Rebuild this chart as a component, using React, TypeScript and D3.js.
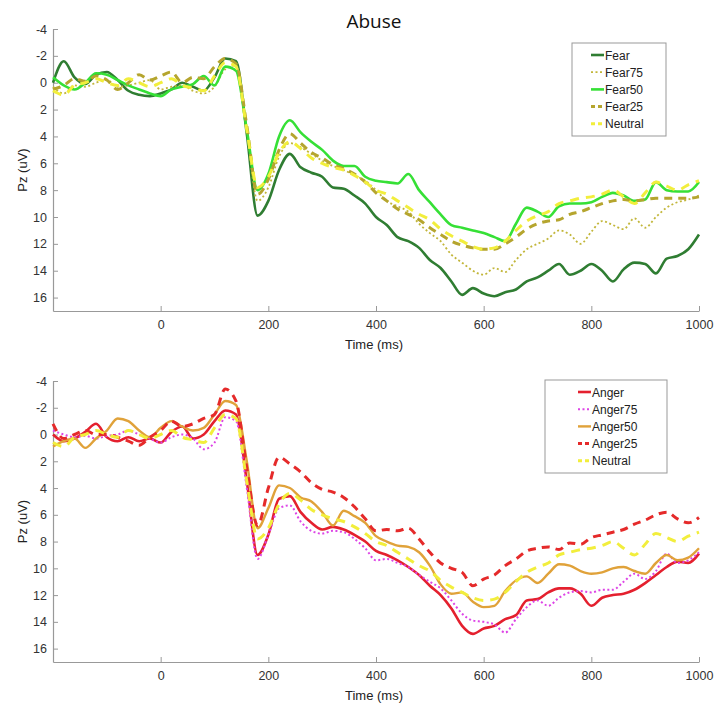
import React, { useEffect, useRef } from "react";
import * as d3 from "d3";

// time points (ms), 20 ms steps
const times = d3.range(-200, 1001, 20);

const xTicks = [0, 200, 400, 600, 800, 1000];
const yTicks = [-4, -2, 0, 2, 4, 6, 8, 10, 12, 14, 16];

// Abuse panel
const fear = [
  0.0, -1.6, -0.4, 0.1, -0.6, -0.8, -0.2, 0.6, 0.9, 1.0, 0.8, 0.5, 0.0, 0.3, 0.6, -0.4, -1.8, -1.6, 3.8, 9.9,
  8.8, 6.5, 5.3, 6.3, 6.7, 7.0, 7.8, 7.9, 8.4, 9.0, 10.0, 10.6, 11.5, 11.8, 12.3, 13.2, 13.8, 14.8, 15.8, 15.3,
  15.7, 15.9, 15.6, 15.4, 14.8, 14.5, 14.0, 13.5, 14.3, 14.0, 13.5, 14.0, 14.8, 13.9, 13.4, 13.5, 14.2, 13.1, 12.9, 12.4,
  11.3,
];
const fear75 = [
  0.3, 0.8, 0.2, 0.3, 0.0, -0.2, 0.3, 0.2, 0.0, -0.2, 0.5, 0.3, 0.2, 0.6, 0.8, 0.3, -1.0, -1.3, 3.5, 8.8,
  7.8, 5.5, 4.5, 4.8, 5.3, 5.8, 6.2, 6.5, 6.9, 7.3, 8.0, 8.8, 9.2, 9.6, 10.5, 11.2, 11.8, 12.8, 13.4, 14.0,
  14.3, 13.8, 14.1, 13.2, 12.4, 12.0, 11.6, 11.0, 11.3, 12.0, 11.1, 10.3, 10.6, 10.9, 10.1, 10.8, 10.0, 9.3, 8.9, 8.7,
  8.4,
];
const fear50 = [
  -0.4, 0.2, 0.5, 0.0, -0.7, -0.6, -0.2, 0.2, 0.5, 0.8, 1.0, 0.5, 0.3, 0.1, -0.5, 0.2, -1.2, -0.9, 3.5, 8.0,
  6.8, 4.0, 2.8, 3.7, 4.4, 5.0, 5.8, 6.2, 6.2, 7.0, 7.3, 7.4, 7.5, 6.8, 8.0, 8.9, 9.8, 10.6, 10.8, 11.0,
  11.2, 11.5, 11.8, 10.5, 9.3, 9.6, 10.0, 9.2, 9.0, 9.0, 8.9, 8.5, 8.2, 8.4, 8.8, 8.7, 7.4, 8.0, 8.1, 8.1,
  7.4,
];
const fear25 = [
  0.5, 0.2, -0.3, -0.1, -0.5, -0.2, 0.5, 0.0, -0.6, -0.2, -0.5, -0.8, 0.0, -0.4, -0.3, -1.2, -1.8, -1.4, 3.2, 8.3,
  7.2, 5.0, 3.8, 4.5, 5.2, 5.6, 6.1, 6.4, 6.8, 7.4, 8.2, 8.8, 9.4, 9.8, 10.2, 10.8, 11.3, 11.8, 12.1, 12.3,
  12.4, 12.4, 12.0, 11.5, 10.9, 10.5, 10.3, 10.2, 9.8, 9.6, 9.3, 9.0, 8.8, 8.7, 8.8, 8.7, 8.6, 8.6, 8.6, 8.6,
  8.5,
];
const neutral = [
  0.6, 0.9, 0.2, 0.0, -0.3, 0.0, 0.2, -0.3, 0.0, 0.3, 0.0, -0.3, 0.2, 0.4, 0.6, -0.5, -1.5, -1.2, 3.5, 7.8,
  7.0, 5.2, 4.4, 4.9, 5.6, 6.0, 6.3, 6.5, 6.9, 7.4, 8.0, 8.3, 8.8, 9.3, 9.8, 10.2, 10.9, 11.4, 11.8, 12.2,
  12.4, 12.3, 11.8, 11.0, 10.3, 9.9, 9.6, 9.0, 8.8, 8.6, 8.5, 8.3, 8.0, 8.5, 9.0, 8.2, 7.4, 7.7, 8.0, 7.6,
  7.3,
];

// Anger panel
const anger = [
  0.0, 0.5, 0.3, -0.2, -0.8, 0.2, 0.5, 0.2, 0.5, 0.3, 0.6, -0.2, -0.6, 0.3, 0.0, -1.0, -1.8, -1.5, 3.5, 9.0,
  7.5, 4.8, 4.6, 5.8, 6.6, 7.1, 6.9, 7.1, 7.5, 8.0, 8.7, 9.0, 9.4, 9.9, 10.5, 11.3, 12.0, 13.0, 14.3, 14.9,
  14.5, 14.3, 13.8, 13.5, 12.4, 12.3, 11.8, 11.5, 11.5, 11.9, 12.8, 12.2, 12.0, 11.9, 11.6, 11.1, 10.5, 9.9, 9.5, 9.6,
  8.9,
];
const anger75 = [
  -0.3, 0.0, 0.2, 0.1, 0.3, 0.1, 0.0, -0.3, 0.0, 0.3, 0.6, 0.2, 0.0, 0.3, 1.1, 0.6, -1.3, -1.0, 4.0, 9.3,
  7.5, 5.5, 5.3, 6.5, 7.2, 7.4, 7.2, 7.3, 7.8, 8.5, 9.4, 9.3, 9.6, 9.9, 10.5, 11.0, 11.5, 12.4, 13.4, 13.9,
  14.0, 14.2, 14.8, 13.8, 12.9, 12.4, 12.8, 12.2, 11.8, 11.7, 11.8, 11.6, 11.6, 11.0, 10.4, 10.8, 10.2, 8.9, 9.6, 9.4,
  8.8,
];
const anger50 = [
  0.9, 0.5, 0.3, 1.0, 0.3, -0.3, -1.2, -1.0, -0.3, 0.2, -0.5, -1.0, -0.6, -0.3, -0.5, -1.5, -2.5, -2.2, 2.0, 7.0,
  5.5, 3.8, 4.0, 4.7, 5.0, 5.8, 6.8, 5.7, 6.1, 6.6, 7.6, 8.0, 8.3, 8.4, 8.8, 9.8, 11.2, 11.9, 11.8, 12.5,
  12.9, 12.8, 11.7, 10.9, 10.6, 11.1, 10.4, 9.7, 9.8, 10.2, 10.4, 10.3, 10.0, 9.9, 10.2, 10.4, 9.6, 9.0, 9.4, 9.2,
  8.5,
];
const anger25 = [
  -0.8, 0.3, 0.0, -0.3, 0.0, 0.0, 0.2, 0.5, 0.8, 0.2, -0.3, -1.0, -0.6, -0.8, -1.2, -1.5, -3.4, -2.5, 2.5, 6.8,
  4.0, 1.7, 2.2, 2.8, 3.6, 4.1, 4.3, 4.7, 5.4, 6.3, 7.2, 7.1, 7.2, 7.0, 7.8, 8.8, 9.6, 10.0, 10.3, 11.3,
  10.8, 10.5, 9.8, 9.3, 8.7, 8.5, 8.4, 8.6, 8.1, 8.2, 7.7, 7.5, 7.3, 7.1, 6.7, 6.4, 6.0, 5.8, 6.3, 6.6,
  6.2,
];

const fearNames = ["Fear", "Fear75", "Fear50", "Fear25", "Neutral"];
const angerNames = ["Anger", "Anger75", "Anger50", "Anger25", "Neutral"];

type Series = { name: string; values: number[]; color: string; dash: string | null; width: number };

const W = 717;
const H = 705;
const FONT = "Liberation Sans, Arial, sans-serif";

export default function App() {
  const ref = useRef<SVGSVGElement>(null);

  useEffect(() => {
    const svg = d3.select(ref.current);
    svg.selectAll("*").remove();

    const x = d3.scaleLinear().domain([-200, 1000]).range([53, 699]);

    const panel = (top: number, bottom: number, series: Series[], title: string | null, legend: { x: number; y: number; w: number }) => {
      const y = d3.scaleLinear().domain([-4, 17]).range([top, bottom]);
      const g = svg.append("g");

      // axes, matlab style: ticks point inward, no box
      const xAxis = d3.axisBottom(x).tickValues(xTicks).tickFormat((d) => String(d)).tickSizeInner(-5).tickSizeOuter(0).tickPadding(9);
      const yAxis = d3.axisLeft(y).tickValues(yTicks).tickFormat((d) => String(d)).tickSizeInner(-5).tickSizeOuter(0).tickPadding(6);
      const gx = g.append("g").attr("transform", `translate(0,${bottom})`).call(xAxis);
      const gy = g.append("g").attr("transform", `translate(53,0)`).call(yAxis);
      [gx, gy].forEach((a) => {
        a.select(".domain").attr("stroke", "#999").attr("stroke-width", 1.2);
        a.selectAll(".tick line").attr("stroke", "#999");
        a.selectAll(".tick text").attr("fill", "#333").style("font-family", FONT).style("font-size", "12.5px");
      });

      const line = d3
        .line<number>()
        .x((_, i) => x(times[i]))
        .y((d) => y(d))
        .curve(d3.curveMonotoneX);

      g.selectAll("path.series")
        .data(series)
        .enter()
        .append("path")
        .attr("class", "series")
        .attr("d", (s) => line(s.values))
        .attr("fill", "none")
        .attr("stroke", (s) => s.color)
        .attr("stroke-width", (s) => s.width)
        .attr("stroke-dasharray", (s) => s.dash)
        .attr("stroke-linejoin", "round");

      g.append("text")
        .text("Time (ms)")
        .attr("x", 374)
        .attr("y", bottom + 38)
        .attr("text-anchor", "middle")
        .attr("fill", "#222")
        .style("font-family", FONT)
        .style("font-size", "13px");

      g.append("text")
        .text("Pz (uV)")
        .attr("transform", `translate(27,${(top + bottom) / 2}) rotate(-90)`)
        .attr("text-anchor", "middle")
        .attr("fill", "#222")
        .style("font-family", FONT)
        .style("font-size", "13px");

      if (title) {
        g.append("text")
          .text(title)
          .attr("x", 374)
          .attr("y", 28)
          .attr("text-anchor", "middle")
          .attr("fill", "#111")
          .style("font-family", "Open Sans, sans-serif")
          .style("font-size", "19px");
      }

      // legend
      const lg = g.append("g").attr("transform", `translate(${legend.x},${legend.y})`);
      const rowH = 17.2;
      const lx = legend.w > 100 ? 33 : 19;
      lg.append("rect")
        .attr("width", legend.w)
        .attr("height", rowH * series.length + 7)
        .attr("fill", "white")
        .attr("stroke", "#999")
        .attr("stroke-width", 1);
      const rows = lg
        .selectAll("g.row")
        .data(series)
        .enter()
        .append("g")
        .attr("transform", (_, i) => `translate(0,${12 + i * rowH})`);
      rows.append("line")
        .attr("x1", lx)
        .attr("x2", lx + 13)
        .attr("stroke", (s) => s.color)
        .attr("stroke-width", (s) => s.width)
        .attr("stroke-dasharray", (s) => (s.dash ? (s.dash === "2,2.5" ? "2,2.5" : "4,3") : null));
      rows.append("text")
        .text((s) => s.name)
        .attr("x", lx + 14)
        .attr("y", 4.5)
        .attr("fill", "#222")
        .style("font-family", FONT)
        .style("font-size", "12px");
    };

    const fearSeries: Series[] = [
      { name: fearNames[0], values: fear, color: "#2f7d32", dash: null, width: 2.6 },
      { name: fearNames[1], values: fear75, color: "#c2b63a", dash: "2,2.5", width: 1.8 },
      { name: fearNames[2], values: fear50, color: "#36e036", dash: null, width: 2.6 },
      { name: fearNames[3], values: fear25, color: "#b5a52e", dash: "8,6", width: 3 },
      { name: fearNames[4], values: neutral, color: "#f2ee3c", dash: "9,7", width: 3 },
    ];
    const angerSeries: Series[] = [
      { name: angerNames[0], values: anger, color: "#e4202e", dash: null, width: 2.6 },
      { name: angerNames[1], values: anger75, color: "#dd44e6", dash: "2,2.5", width: 2 },
      { name: angerNames[2], values: anger50, color: "#e0a23a", dash: null, width: 2.4 },
      { name: angerNames[3], values: anger25, color: "#e52a2a", dash: "8,6", width: 3 },
      { name: angerNames[4], values: neutral, color: "#f2ee3c", dash: "9,7", width: 3 },
    ];

    panel(29, 311, fearSeries, "Abuse", { x: 572, y: 43, w: 94 });
    panel(381, 662, angerSeries, null, { x: 545, y: 380, w: 122 });
  }, []);

  return (
    <svg
      ref={ref}
      width={W}
      height={H}
      style={{ position: "absolute", left: 0, top: 0, background: "white" }}
    />
  );
}
